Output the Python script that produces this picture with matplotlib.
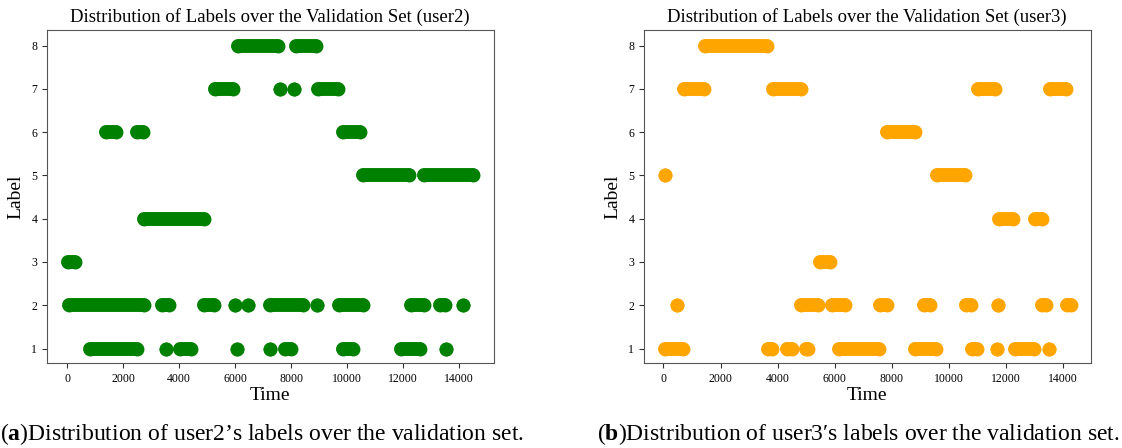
import matplotlib
matplotlib.use('Agg')
import matplotlib.pyplot as plt

plt.rcParams['font.family'] = ['Liberation Serif', 'DejaVu Serif']
plt.rcParams['mathtext.fontset'] = 'custom'
plt.rcParams['mathtext.rm'] = 'Liberation Serif'
plt.rcParams['mathtext.bf'] = 'Liberation Serif:bold'

# runs of consecutive samples with the same label: (label, first time, last time)
user2_label = [8, 8,
               7, 7, 7, 7,
               6, 6, 6,
               5, 5,
               4,
               3,
               2, 2, 2, 2, 2, 2, 2, 2, 2, 2, 2,
               1, 1, 1, 1, 1, 1, 1, 1, 1]
user2_start = [6100, 8180,
               5290, 7600, 8100, 8980,
               1380, 2510, 9870,
               10580, 12760,
               2750,
               10,
               70, 3370, 4890, 5990, 7230, 8930, 9700, 12280, 13320, 14150, 6460,
               820, 3540, 4040, 6070, 7240, 7770, 9850, 11930, 13550]
user2_end = [7520, 8890,
             5940, 7600, 8100, 9670,
             1730, 2690, 10480,
             12230, 14510,
             4870,
             260,
             2730, 3630, 5260, 5990, 8420, 8930, 10560, 12740, 13490, 14150, 6460,
             2490, 3540, 4440, 6070, 7240, 7990, 10210, 12620, 13550]

user3_label = [8,
               7, 7, 7, 7,
               6,
               5, 5,
               4, 4,
               3,
               2, 2, 2, 2, 2, 2, 2, 2, 2,
               1, 1, 1, 1, 1, 1, 1, 1, 1, 1]
user3_start = [1460,
               730, 3830, 11030, 13530,
               7830,
               60, 9580,
               11750, 13010,
               5500,
               470, 4820, 5900, 7590, 9120, 10610, 11720, 13270, 14130,
               70, 3670, 4330, 4980, 6160, 8820, 10810, 11670, 12300, 13490]
user3_end = [3630,
             1430, 4810, 11620, 14100,
             8800,
             60, 10570,
             12240, 13250,
             5840,
             470, 5420, 6370, 7820, 9330, 10780, 11720, 13410, 14260,
             680, 3810, 4490, 5050, 7540, 9560, 10990, 11670, 12970, 13490]

users = ['user2', 'user3']
colors = ['green', 'orange']
data = [(user2_label, user2_start, user2_end), (user3_label, user3_start, user3_end)]
xlims = [(-725, 15240), (-680, 14960)]
captions = ['($\\mathbf{a}$)Distribution of user2\u2019s labels over the validation set.',
            '($\\mathbf{b}$)Distribution of user3\u2032s labels over the validation set.']

fig = plt.figure(figsize=(11.22, 4.48), dpi=100)
ax_left = [0.0419, 0.574]
cap_x = [0.0, 0.532]

for k in range(2):
    ax = fig.add_axes([ax_left[k], 0.19, 0.398, 0.743])
    labels, starts, ends = data[k]
    for y, s, e in zip(labels, starts, ends):
        ax.plot([s, e], [y, y], color=colors[k], lw=10, solid_capstyle='round',
                marker='o', ms=10, mew=0)
    ax.set_xlim(xlims[k])
    ax.set_ylim(0.668, 8.36)
    ax.set_xticks(range(0, 14001, 2000))
    ax.set_yticks(range(1, 9))
    ax.tick_params(labelsize=8.5, color='#333333')
    for sp in ax.spines.values():
        sp.set_color('#555555')
    ax.set_title('Distribution of Labels over the Validation Set (%s)' % users[k], fontsize=13.5, pad=6)
    ax.set_xlabel('Time', fontsize=14, labelpad=2)
    ax.set_ylabel('Label', fontsize=14, labelpad=5)
    fig.text(cap_x[k], 0.018, captions[k], fontsize=17, ha='left', va='baseline')

plt.savefig('out.png', dpi=100)
